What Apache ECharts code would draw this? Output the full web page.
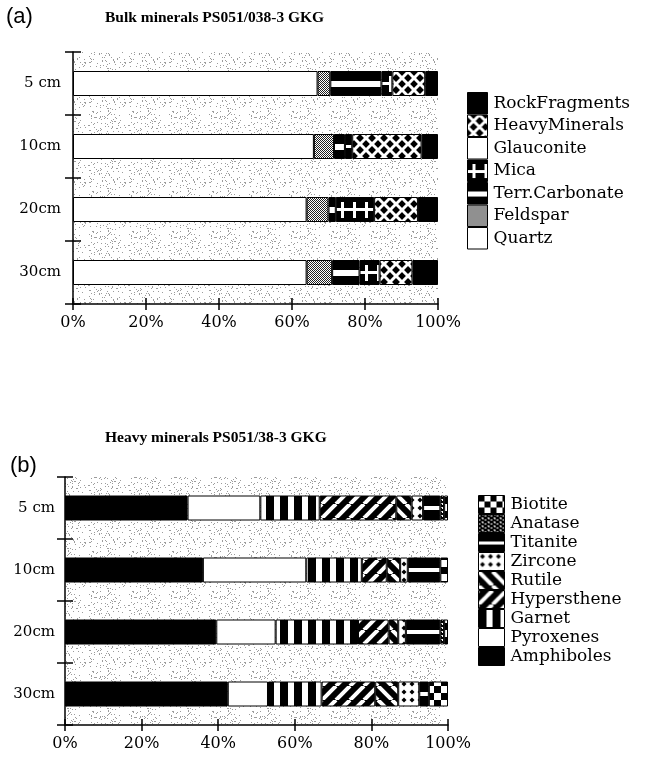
<!DOCTYPE html>
<html><head><meta charset="utf-8">
<script src="https://cdn.jsdelivr.net/npm/echarts@6/dist/echarts.min.js"></script>
<style>html,body{margin:0;padding:0;background:#fff}#c{width:648px;height:769px}</style>
</head><body><div id="c"></div>
<script>
// ---------- data ----------
const categories = ['5 cm', '10cm', '20cm', '30cm'];
const xTicks = [0, 20, 40, 60, 80, 100];

// (a) Bulk minerals, % (stack order left -> right)
const quartz        = [67, 66, 64, 64];
const feldspar      = [3.5, 5.5, 6, 7];
const terrCarbonate = [14, 3, 2, 7.5];
const mica          = [3, 2, 10.5, 5.5];
const glauconite    = [0, 0, 0, 0];
const heavyMinerals = [9, 19, 12, 9];
const rockFragments = [3.5, 4.5, 5.5, 7];

// (b) Heavy minerals, %
const amphiboles  = [32, 36, 39.5, 42.5];
const pyroxenes   = [19, 27, 15.5, 10.5];
const garnet      = [15.5, 14.5, 21.5, 14];
const hypersthene = [20, 6.5, 8, 14];
const rutile      = [4, 3.5, 2.5, 6];
const zircone     = [3, 2, 2, 5.5];
const titanite    = [4.5, 8.5, 9, 2.5];
const anatase     = [1, 0, 1, 0];
const biotite     = [1, 2, 1, 5];

// ---------- layout (styles) ----------
const GA = {left: 73, top: 52, width: 365, height: 252};
const GB = {left: 65, top: 477, width: 383, height: 248};
const BAR_W = 25;
const SERIF = 'Liberation Serif';
const SERIF2 = 'DejaVu Serif';

// ---------- patterns ----------
function pat(w, h, fn) {
  const c = document.createElement('canvas');
  c.width = w; c.height = h;
  const g = c.getContext('2d');
  fn(g, w, h);
  return {image: c, repeat: 'repeat'};
}
const black = '#000', white = '#fff';
function checker(n) {
  return pat(2 * n, 2 * n, (g) => {
    g.fillStyle = white; g.fillRect(0, 0, 2 * n, 2 * n);
    g.fillStyle = black; g.fillRect(0, 0, n, n); g.fillRect(n, n, n, n);
  });
}
function diag(s, lw, dir, bg, fg) {
  return pat(s, s, (g) => {
    g.fillStyle = bg; g.fillRect(0, 0, s, s);
    g.strokeStyle = fg; g.lineWidth = lw;
    for (let k = -1; k <= 1; k++) {
      g.beginPath();
      if (dir === '/') { g.moveTo(k * s, s); g.lineTo(k * s + s, 0); }
      else { g.moveTo(k * s, 0); g.lineTo(k * s + s, s); }
      g.stroke();
    }
  });
}
function lattice(s, lw) {
  return pat(s, s, (g) => {
    g.fillStyle = black; g.fillRect(0, 0, s, s);
    g.strokeStyle = white; g.lineWidth = lw;
    for (let k = -1; k <= 1; k++) {
      g.beginPath(); g.moveTo(k * s, s); g.lineTo(k * s + s, 0); g.stroke();
      g.beginPath(); g.moveTo(k * s, 0); g.lineTo(k * s + s, s); g.stroke();
    }
  });
}
// horizontal stripe centred at c in a tile of height h
function hstripe(h, c, sw) {
  return pat(4, h, (g) => {
    g.fillStyle = black; g.fillRect(0, 0, 4, h);
    g.fillStyle = white; g.fillRect(0, Math.round(c - sw / 2), 4, sw);
  });
}
function micaPat(h, c, half) {
  return pat(12, h, (g) => {
    g.fillStyle = black; g.fillRect(0, 0, 12, h);
    g.fillStyle = white;
    g.fillRect(0, Math.round(c - 1.5), 12, 3);
    g.fillRect(5, Math.round(c - half), 3, Math.round(2 * half));
  });
}
const feldsparPat = pat(2, 2, (g) => {
  g.fillStyle = white; g.fillRect(0, 0, 2, 2);
  g.fillStyle = '#222'; g.fillRect(0, 0, 1, 1); g.fillRect(1, 1, 1, 1);
});
const garnetPat = pat(14, 2, (g) => {
  g.fillStyle = black; g.fillRect(0, 0, 14, 2);
  g.fillStyle = white; g.fillRect(8, 0, 6, 2);
});
const zirconePat = pat(8, 8, (g) => {
  g.fillStyle = white; g.fillRect(0, 0, 8, 8);
  g.fillStyle = black;
  g.beginPath(); g.moveTo(4, 1.5); g.lineTo(6.5, 4); g.lineTo(4, 6.5); g.lineTo(1.5, 4); g.closePath(); g.fill();
});
const anatasePat = pat(6, 4, (g) => {
  g.fillStyle = black; g.fillRect(0, 0, 6, 4);
  g.fillStyle = white; g.fillRect(0, 1, 2, 1); g.fillRect(3, 3, 2, 1); g.fillRect(4, 0, 1, 1);
});
// light stipple texture for the plot background
const stipple = pat(40, 40, (g) => {
  g.fillStyle = white; g.fillRect(0, 0, 40, 40);
  g.fillStyle = '#9c9c9c';
  for (let y = 0; y < 40; y++) for (let x = 0; x < 40; x++) {
    let h = Math.imul(x, 374761393) + Math.imul(y, 668265263);
    h = Math.imul(h ^ (h >>> 13), 1274126177);
    h = (h ^ (h >>> 16)) >>> 0;
    if (h % 100 < 8) g.fillRect(x, y, 1, 1);
  }
});

// band alignment for horizontal features
const bandA = GA.height / categories.length;  // 63
const bandB = GB.height / categories.length;  // 62
const cA = (GA.top + bandA / 2) % bandA;
const cB = (GB.top + bandB / 2) % bandB;
const LA_H = 21.5, LB_H = 18;

const styleA = {
  Quartz: [white, white],
  Feldspar: [feldsparPat, feldsparPat],
  'Terr.Carbonate': [hstripe(bandA, cA, 6), hstripe(22, 11, 5)],
  Mica: [micaPat(bandA, cA, 8), micaPat(22, 11, 7)],
  Glauconite: [white, white],
  HeavyMinerals: [lattice(12, 3), lattice(12, 3)],
  RockFragments: [black, black]
};
const styleB = {
  Amphiboles: [black, black],
  Pyroxenes: [white, white],
  Garnet: [garnetPat, garnetPat],
  Hypersthene: [diag(14, 4, '/', black, white), diag(14, 4, '/', black, white)],
  Rutile: [diag(14, 4, '\\', black, white), diag(14, 4, '\\', black, white)],
  Zircone: [zirconePat, zirconePat],
  Titanite: [hstripe(bandB, cB, 4), hstripe(18, 9, 3)],
  Anatase: [anatasePat, anatasePat],
  Biotite: [checker(7), checker(6)]
};

const seriesA = [
  ['Quartz', quartz], ['Feldspar', feldspar], ['Terr.Carbonate', terrCarbonate],
  ['Mica', mica], ['Glauconite', glauconite], ['HeavyMinerals', heavyMinerals],
  ['RockFragments', rockFragments]
];
const seriesB = [
  ['Amphiboles', amphiboles], ['Pyroxenes', pyroxenes], ['Garnet', garnet],
  ['Hypersthene', hypersthene], ['Rutile', rutile], ['Zircone', zircone],
  ['Titanite', titanite], ['Anatase', anatase], ['Biotite', biotite]
];

function mkSeries(list, styles, xi, yi, stack) {
  return list.map(([name, vals]) => ({
    name, type: 'bar', stack, xAxisIndex: xi, yAxisIndex: yi,
    barWidth: BAR_W, data: vals.map(v => (v === 0 ? '-' : v)),
    itemStyle: {color: styles[name][0], borderColor: '#000', borderWidth: 1},
    emphasis: {disabled: true}, animation: false
  }));
}
function mkLegend(list, styles, left, top, iw, ih, fs) {
  return {
    orient: 'vertical', left, top, padding: 0, itemGap: 0,
    itemWidth: iw, itemHeight: ih, icon: 'rect', selectedMode: false,
    textStyle: {fontFamily: SERIF2, fontSize: fs, color: '#000', lineHeight: Math.floor(ih) - 3, padding: [0, 0, 0, 1]},
    itemStyle: {borderColor: '#000', borderWidth: 1},
    data: list.slice().reverse().map(([name]) => ({
      name, itemStyle: {color: styles[name][1], borderColor: '#000', borderWidth: 1}
    }))
  };
}
function xAx(gi, main) {
  return {
    gridIndex: gi, type: 'value', min: 0, max: 100, interval: 20, position: 'bottom',
    axisLine: {show: main, lineStyle: {color: '#000', width: 1.5}},
    axisTick: {show: true, inside: !main, length: 6, lineStyle: {color: '#000', width: 1.5}},
    axisLabel: {show: main, margin: 11, color: '#000', fontFamily: SERIF2, fontSize: 16,
      formatter: v => (xTicks.includes(v) ? v + '%' : '')},
    splitLine: {show: false}
  };
}
function yAx(gi, main, margin) {
  return {
    gridIndex: gi, type: 'category', data: categories, inverse: true, position: 'left',
    axisLine: {show: main, onZero: false, lineStyle: {color: '#000', width: 1.5}},
    axisTick: {show: true, inside: !main, length: 8, lineStyle: {color: '#000', width: 1.5}},
    axisLabel: {show: main, margin, color: '#000', fontFamily: SERIF2, fontSize: 15},
    splitLine: {show: false}
  };
}

const chart = echarts.init(document.getElementById('c'), null, {renderer: 'canvas'});
chart.setOption({
  backgroundColor: '#fff',
  animation: false,
  title: [
    {text: '(a)', left: 6, top: 6, padding: 0, textStyle: {fontFamily: 'Liberation Sans', fontSize: 22, fontWeight: 'normal', color: '#000'}},
    {text: 'Bulk minerals PS051/038-3 GKG', left: 105, top: 10, padding: 0, textStyle: {fontFamily: SERIF, fontSize: 15.5, fontWeight: 'bold', color: '#000'}},
    {text: 'Heavy minerals PS051/38-3 GKG', left: 105, top: 430, padding: 0, textStyle: {fontFamily: SERIF, fontSize: 15.5, fontWeight: 'bold', color: '#000'}},
    {text: '(b)', left: 10, top: 455, padding: 0, textStyle: {fontFamily: 'Liberation Sans', fontSize: 22, fontWeight: 'normal', color: '#000'}}
  ],
  grid: [
    Object.assign({show: true, borderWidth: 0, backgroundColor: stipple, containLabel: false}, GA),
    Object.assign({show: true, borderWidth: 0, backgroundColor: stipple, containLabel: false}, GB)
  ],
  xAxis: [xAx(0, true), xAx(0, false), xAx(1, true), xAx(1, false)],
  yAxis: [yAx(0, true, 12), yAx(0, false, 12), yAx(1, true, 10), yAx(1, false, 10)],
  legend: [
    mkLegend(seriesA, styleA, 467, 92, 20, LA_H, 17),
    mkLegend(seriesB, styleB, 478, 495, 26, LB_H, 17)
  ],
  series: [].concat(mkSeries(seriesA, styleA, 0, 0, 'a'), mkSeries(seriesB, styleB, 2, 2, 'b'))
});
</script>
</body></html>
